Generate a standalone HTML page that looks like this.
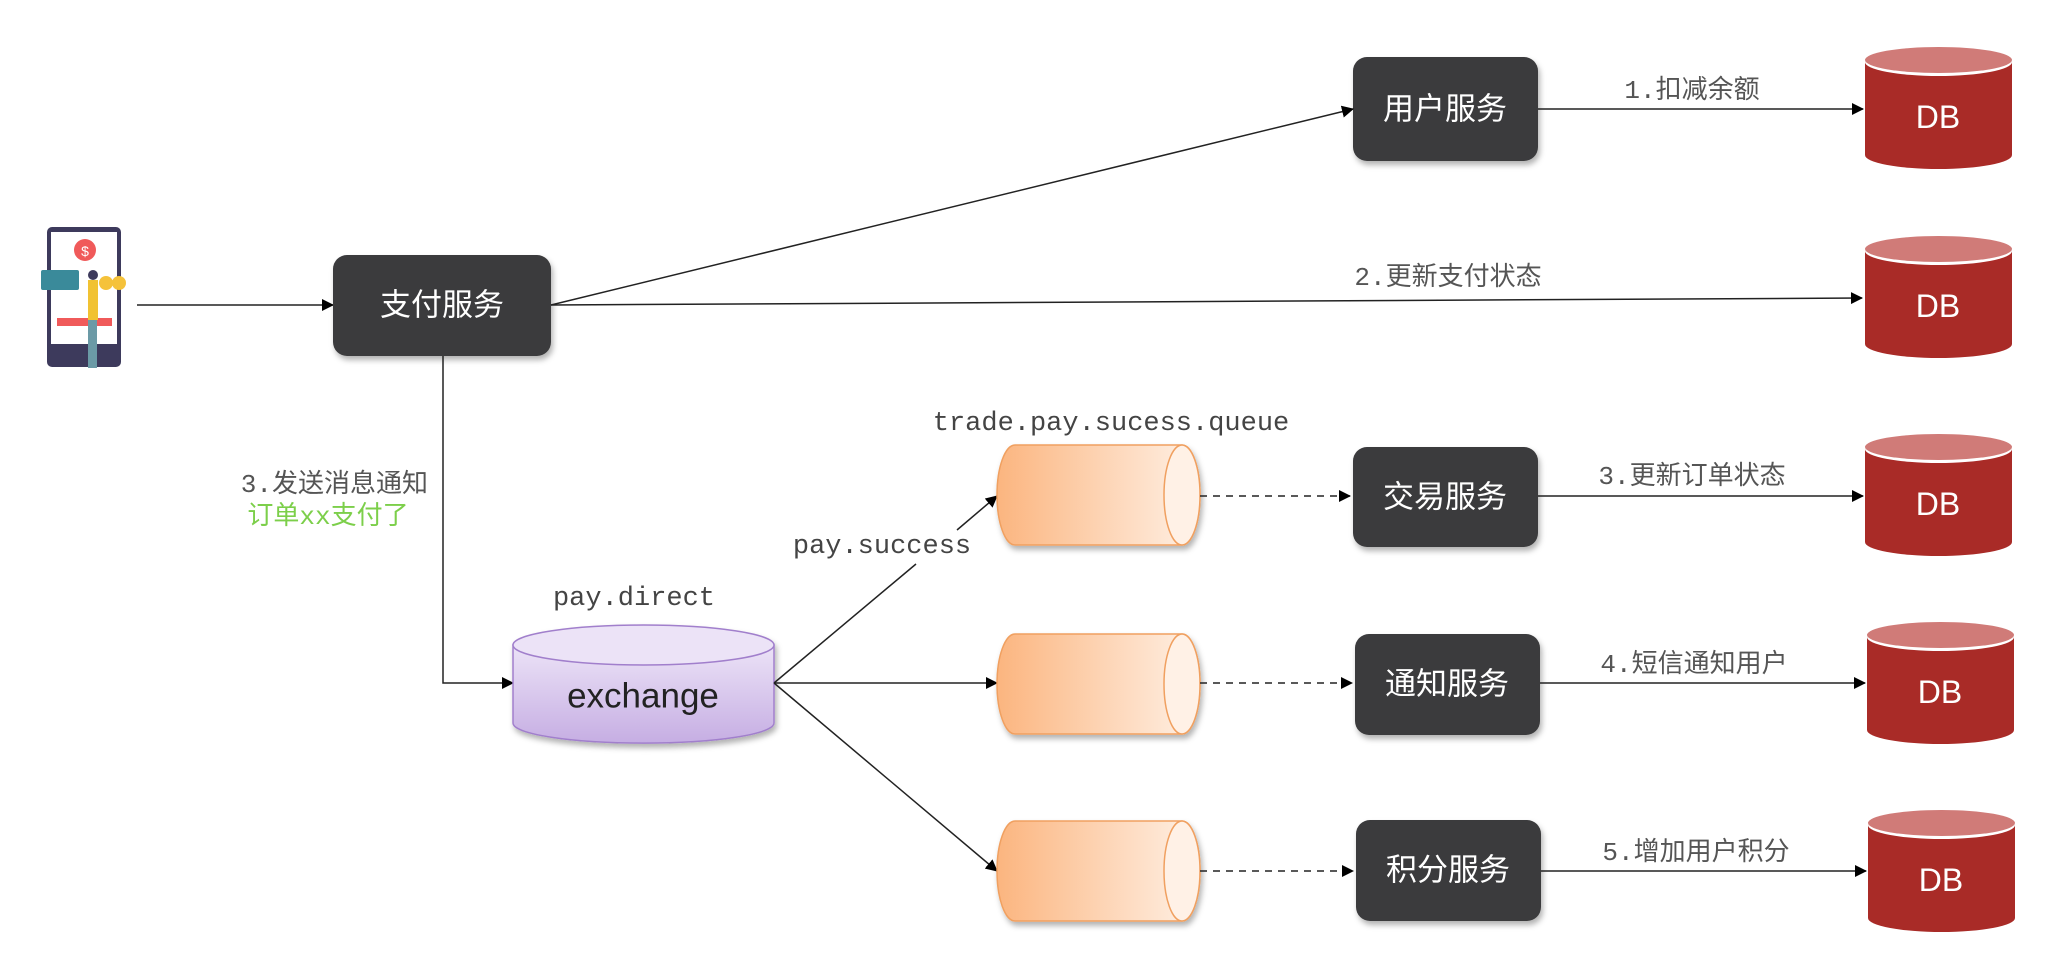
<!DOCTYPE html>
<html><head><meta charset="utf-8">
<style>
html,body{margin:0;padding:0;background:#fff;}
svg{display:block;}
.svc{font-family:"Liberation Sans","Noto Sans CJK SC",sans-serif;font-size:31px;fill:#fff;text-anchor:middle;dominant-baseline:central;}
.lbl{font-family:"Liberation Mono","Noto Sans CJK SC",monospace;font-size:26px;fill:#555;dominant-baseline:central;}
.mono{font-family:"Liberation Mono",monospace;font-size:27px;fill:#444;dominant-baseline:central;}
.db{font-family:"Liberation Sans",sans-serif;font-size:32px;fill:#fff;text-anchor:middle;dominant-baseline:central;}
</style></head>
<body>
<svg width="2071" height="963" viewBox="0 0 2071 963" xmlns="http://www.w3.org/2000/svg">
<defs>
<marker id="ar" markerWidth="12" markerHeight="12" refX="11" refY="6" orient="auto" markerUnits="userSpaceOnUse">
<path d="M0,0 L12,6 L0,12 z" fill="#000"/></marker>
<linearGradient id="qg" x1="0" x2="1" y1="0" y2="0"><stop offset="0" stop-color="#fbb57f"/><stop offset="1" stop-color="#fff1e6"/></linearGradient>
<linearGradient id="eg" x1="0" x2="0" y1="0" y2="1"><stop offset="0" stop-color="#ece3f7"/><stop offset="1" stop-color="#c6aee3"/></linearGradient>
<filter id="sh" x="-10%" y="-10%" width="130%" height="140%"><feDropShadow dx="2" dy="4" stdDeviation="3" flood-opacity="0.3"/></filter>
</defs>

<g>
<rect x="47" y="227" width="74" height="140" rx="5" fill="#3d3a5c"/>
<rect x="51" y="232" width="66" height="112" fill="#fff"/>
<circle cx="85" cy="250" r="11" fill="#f05a5a"/>
<text x="85" y="256" font-size="14" fill="#fff" text-anchor="middle" font-family="Liberation Sans">$</text>
<rect x="41" y="270" width="38" height="20" rx="2" fill="#3a8a9a"/>
<rect x="57" y="318" width="55" height="8" fill="#f05a5a"/>
<circle cx="106" cy="283" r="7" fill="#f5c23a"/><circle cx="119" cy="283" r="7" fill="#f5c23a"/>
<rect x="88" y="280" width="10" height="40" fill="#f1c232"/>
<rect x="88" y="320" width="9" height="48" fill="#6b9aa6"/>
<circle cx="93" cy="275" r="5" fill="#3d3a5c"/>
</g>
<line x1="137" y1="305" x2="333" y2="305" stroke="#222" stroke-width="1.5" marker-end="url(#ar)"/>

<g filter="url(#sh)" fill="#3a3a3c">
<rect x="333" y="255" width="218" height="101" rx="14"/>
<rect x="1353" y="57" width="185" height="104" rx="14"/>
<rect x="1353" y="447" width="185" height="100" rx="14"/>
<rect x="1355" y="634" width="185" height="101" rx="14"/>
<rect x="1356" y="820" width="185" height="101" rx="14"/>
</g>
<text class="svc" x="442" y="305">支付服务</text>
<text class="svc" x="1445" y="109">用户服务</text>
<text class="svc" x="1445" y="497">交易服务</text>
<text class="svc" x="1447" y="684">通知服务</text>
<text class="svc" x="1448" y="870">积分服务</text>

<line x1="551" y1="305" x2="1353" y2="109" stroke="#222" stroke-width="1.5" marker-end="url(#ar)"/>
<line x1="551" y1="305" x2="1862" y2="298" stroke="#222" stroke-width="1.5" marker-end="url(#ar)"/>
<polyline points="443,356 443,683 513,683" fill="none" stroke="#222" stroke-width="1.5" marker-end="url(#ar)"/>
<text class="lbl" x="428" y="485" text-anchor="end">3.发送消息通知</text>
<text class="lbl" x="328" y="517" text-anchor="middle" style="fill:#7ccf4a">订单xx支付了</text>

<g filter="url(#sh)">
<path d="M513,645 L513,723 A130,20 0 0 0 774,723 L774,645 Z" fill="url(#eg)" stroke="#a17fcc" stroke-width="1.5"/>
<ellipse cx="643.5" cy="645" rx="130.5" ry="20" fill="#ece3f7" stroke="#a17fcc" stroke-width="1.5"/>
</g>
<text x="643" y="696" text-anchor="middle" dominant-baseline="central" font-family="Liberation Sans,sans-serif" font-size="35" fill="#222">exchange</text>
<text class="mono" x="634" y="599" text-anchor="middle">pay.direct</text>

<line x1="774" y1="683" x2="916" y2="564" stroke="#222" stroke-width="1.5"/>
<line x1="957" y1="530" x2="997" y2="496" stroke="#222" stroke-width="1.5" marker-end="url(#ar)"/>
<line x1="774" y1="683" x2="997" y2="683" stroke="#222" stroke-width="1.5" marker-end="url(#ar)"/>
<line x1="774" y1="683" x2="997" y2="871" stroke="#222" stroke-width="1.5" marker-end="url(#ar)"/>
<text class="mono" x="882" y="547" text-anchor="middle">pay.success</text>
<text class="mono" x="1111" y="424" text-anchor="middle">trade.pay.sucess.queue</text>

<g filter="url(#sh)">
<g id="q1">
<path d="M1015,445 L1182,445 A18,50 0 0 1 1182,545 L1015,545 A18,50 0 0 1 1015,445 Z" fill="url(#qg)" stroke="#f0a060" stroke-width="1.5"/>
<ellipse cx="1182" cy="495" rx="18" ry="50" fill="#fff1e6" stroke="#f0a060" stroke-width="1.5"/>
</g>
<use href="#q1" y="189"/>
<use href="#q1" y="376"/>
</g>
<g stroke="#222" stroke-width="1.5" stroke-dasharray="7,6">
<line x1="1200" y1="496" x2="1350" y2="496" marker-end="url(#ar)"/>
<line x1="1200" y1="683" x2="1352" y2="683" marker-end="url(#ar)"/>
<line x1="1200" y1="871" x2="1353" y2="871" marker-end="url(#ar)"/>
</g>

<g stroke="#222" stroke-width="1.5">
<line x1="1538" y1="109" x2="1863" y2="109" marker-end="url(#ar)"/>
<line x1="1538" y1="496" x2="1863" y2="496" marker-end="url(#ar)"/>
<line x1="1540" y1="683" x2="1865" y2="683" marker-end="url(#ar)"/>
<line x1="1541" y1="871" x2="1866" y2="871" marker-end="url(#ar)"/>
</g>
<text class="lbl" x="1692" y="91" text-anchor="middle">1.扣减余额</text>
<text class="lbl" x="1448" y="278" text-anchor="middle">2.更新支付状态</text>
<text class="lbl" x="1692" y="477" text-anchor="middle">3.更新订单状态</text>
<text class="lbl" x="1694" y="665" text-anchor="middle">4.短信通知用户</text>
<text class="lbl" x="1696" y="853" text-anchor="middle">5.增加用户积分</text>

<g id="db1">
<path d="M1865,62 L1865,155 A73.5,14 0 0 0 2012,155 L2012,62 Z" fill="#a92b27"/>
<ellipse cx="1938.5" cy="62" rx="73.5" ry="14" fill="#fff"/>
<ellipse cx="1938.5" cy="60" rx="73.5" ry="13" fill="#d07b78"/>
</g>
<text class="db" x="1938" y="117">DB</text>
<use href="#db1" y="189"/><text class="db" x="1938" y="306">DB</text>
<use href="#db1" y="387"/><text class="db" x="1938" y="504">DB</text>
<use href="#db1" y="575" x="2"/><text class="db" x="1940" y="692">DB</text>
<use href="#db1" y="763" x="3"/><text class="db" x="1941" y="880">DB</text>
</svg>
</body></html>
